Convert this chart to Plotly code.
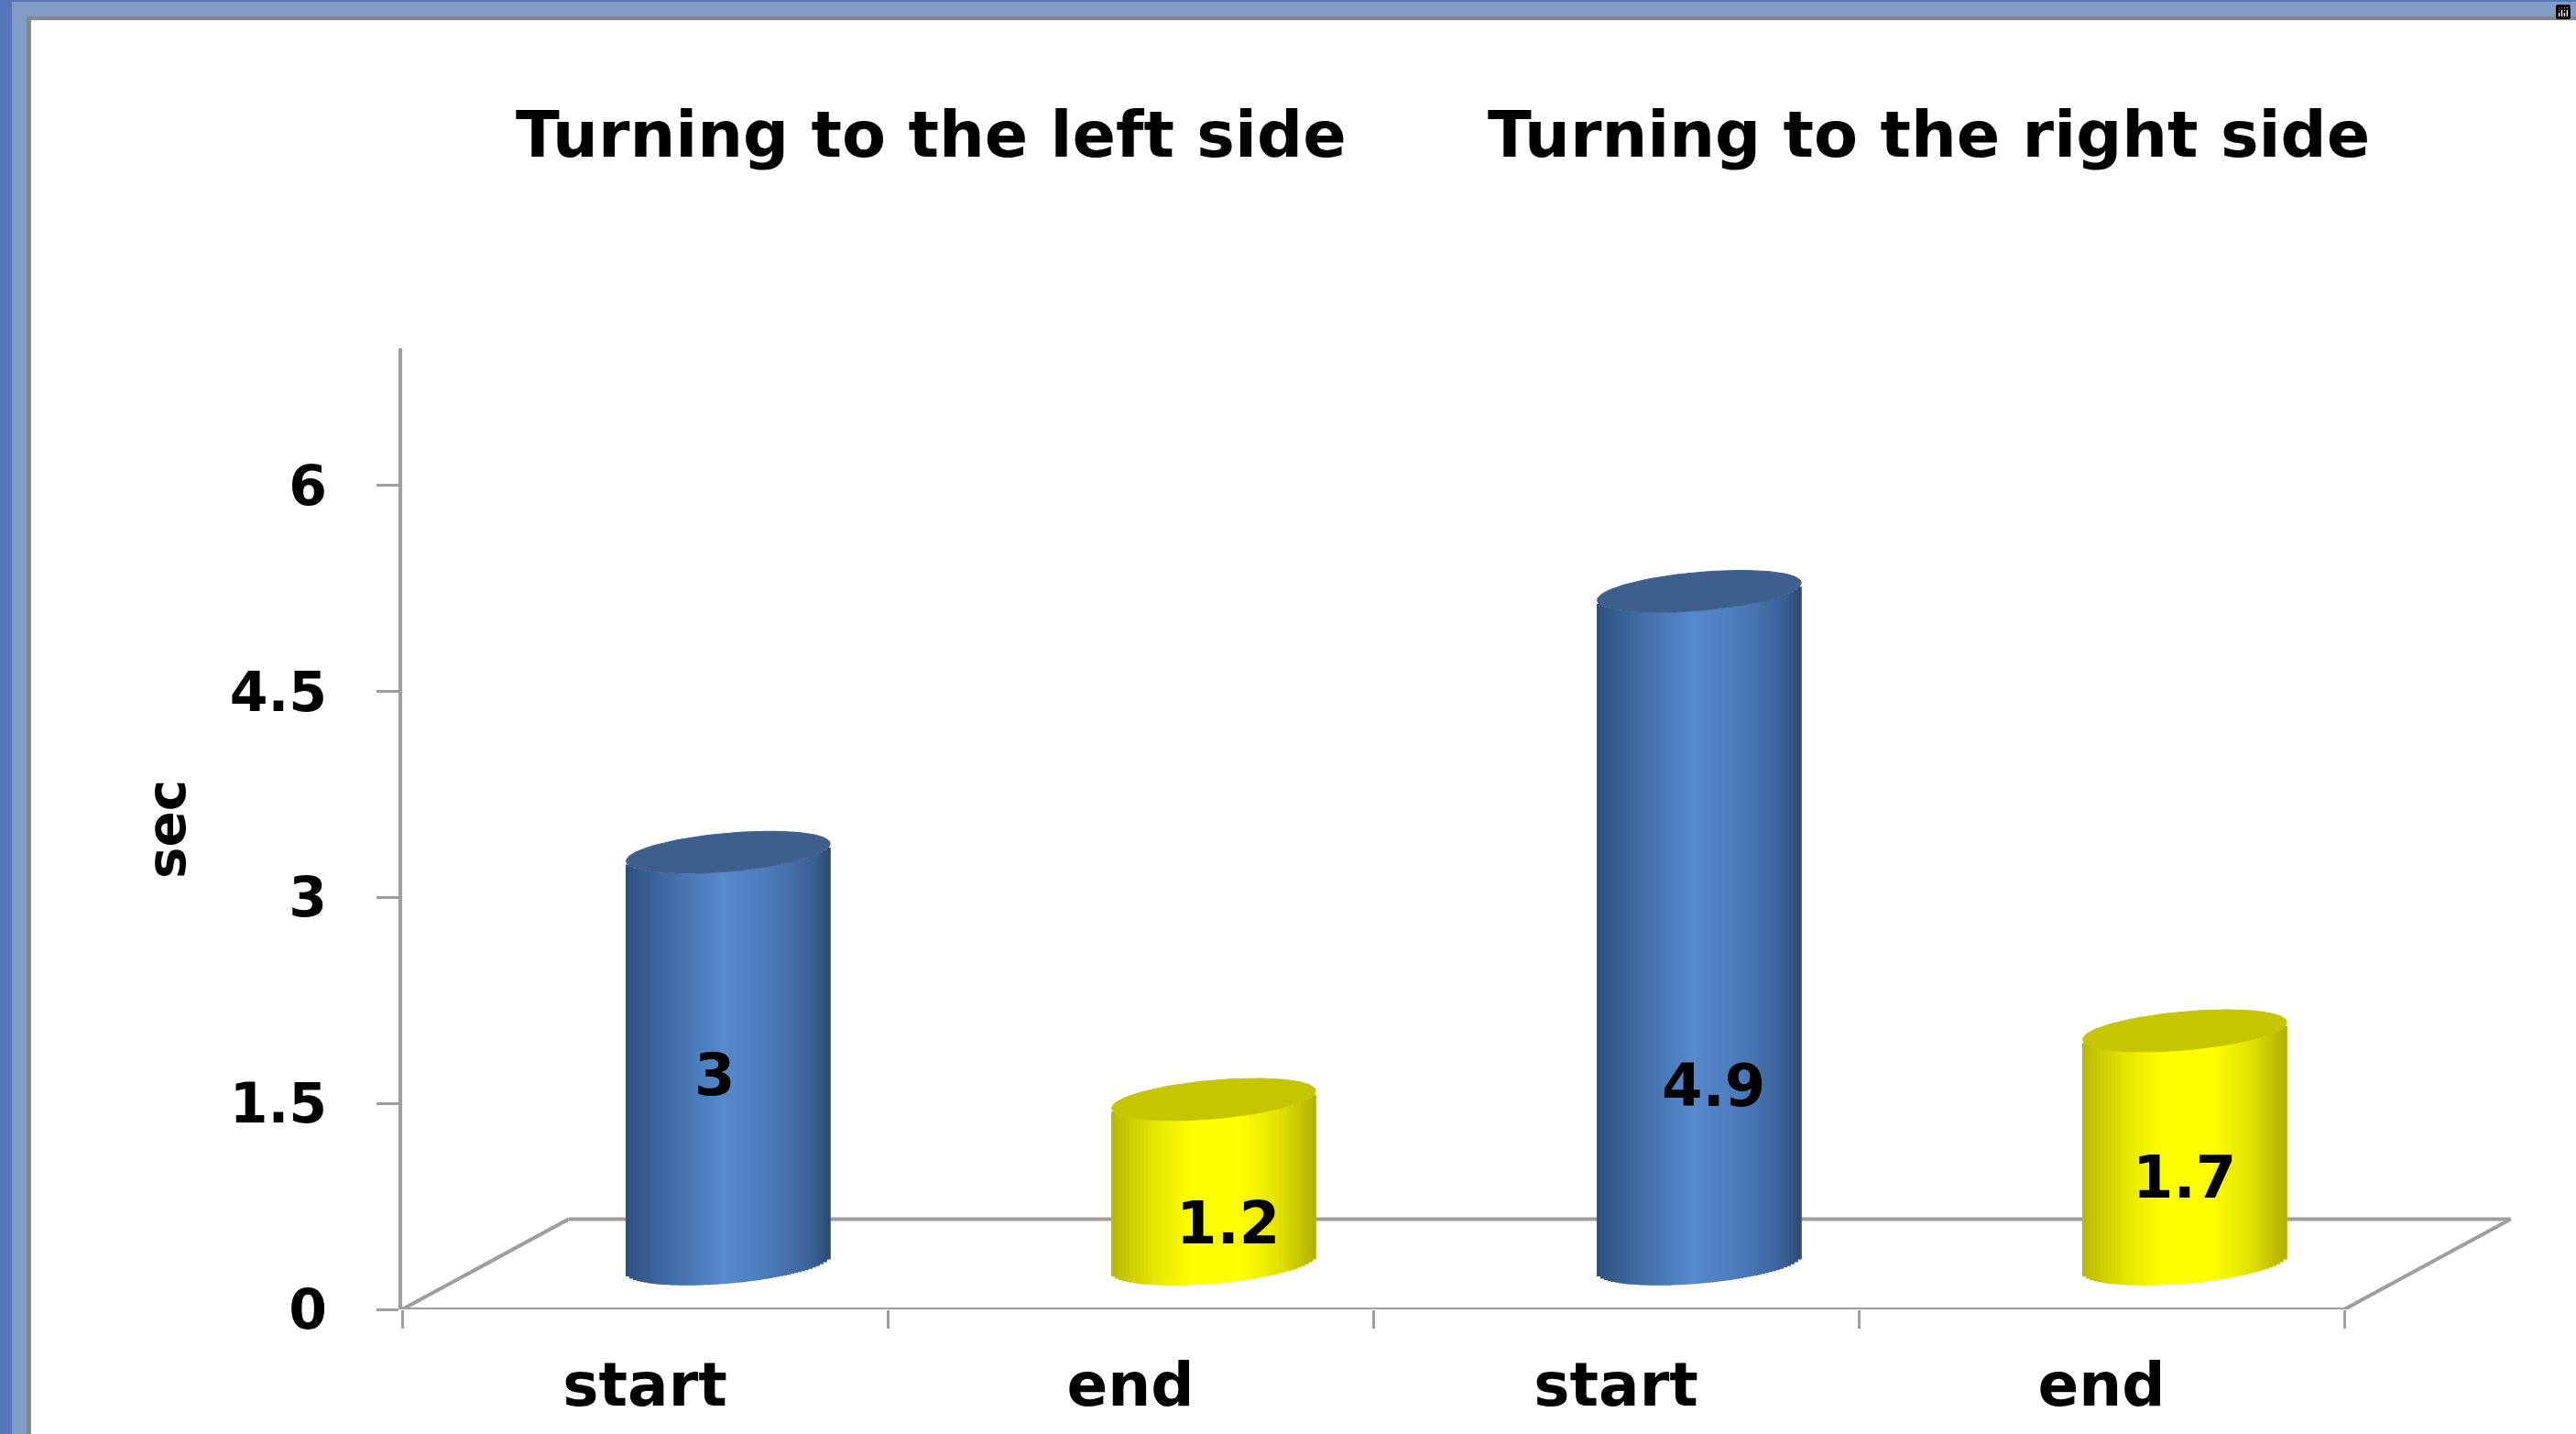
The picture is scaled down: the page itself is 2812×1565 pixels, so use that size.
import numpy as np
import plotly.graph_objects as go

# ---------------- data ----------------
groups = ["Turning to the left side", "Turning to the right side"]
categories = ["start", "end", "start", "end"]
values = [3, 1.2, 4.9, 1.7]
y_tick_vals = [0, 1.5, 3, 4.5, 6]
y_tick_text = ["0", "1.5", "3", "4.5", "6"]
y_title = "sec"

# ---------------- layout / style ----------------
FIG_W, FIG_H = 2812, 1565
L, R_EDGE, T, B = 439, 2771, 380, 1429
PW, PH = R_EDGE - L, B - T
X_RANGE = [-0.5, 3.9]
Y_RANGE = [0, 7]
DEPTH_X = 0.343          # floor depth, category units
DEPTH_Y = 0.657          # floor depth, value units
BAR_HALF = 0.21          # cylinder half width (category units)
ELL = 0.14               # ellipse semi-minor (value units)
TILT = 0.063             # ellipse tilt
N_STRIPS = 56
FONT = "DejaVu Sans"
GRAY = "#9E9E9E"
label_y = [1.38, 0.30, 1.30, 0.63]      # data-label heights inside cylinders
label_dx = [-0.027, 0.03, 0.03, 0.0]    # data-label horizontal nudges
title_px = [(1016, 147), (2105, 147)]

blue_stops = [(-1, (46, 80, 128)), (-0.55, (66, 110, 168)), (-0.05, (86, 138, 205)),
              (0.45, (74, 121, 183)), (0.85, (57, 95, 148)), (1, (44, 72, 112))]
yellow_stops = [(-1, (184, 184, 0)), (-0.6, (228, 228, 0)), (-0.2, (255, 255, 0)),
                (0.25, (255, 255, 0)), (0.65, (226, 226, 0)), (1, (176, 176, 0))]
top_colors = {"start": "#3E5F8E", "end": "#C6C600"}


def shade(stops, u):
    for (u0, c0), (u1, c1) in zip(stops[:-1], stops[1:]):
        if u0 <= u <= u1:
            f = (u - u0) / (u1 - u0)
            c = [round(c0[j] + (c1[j] - c0[j]) * f) for j in range(3)]
            return "rgb(%d,%d,%d)" % tuple(c)
    c = stops[-1][1]
    return "rgb(%d,%d,%d)" % c


def px_x(px):
    return (px - L) / PW


def px_y(py):
    return (B - py) / PH


fig = go.Figure()
xs = np.arange(len(values))

# cylinder bodies: vertical strips, each a bar from the data values
sw = 2 * BAR_HALF / N_STRIPS
for k in range(N_STRIPS):
    u = -1 + (k + 0.5) * 2 / N_STRIPS
    yf = -ELL * np.sqrt(max(0.0, 1 - u * u)) + TILT * u
    cols = [shade(blue_stops if c == "start" else yellow_stops, u) for c in categories]
    fig.add_trace(go.Bar(
        x=xs + u * BAR_HALF, y=values, base=[yf] * len(values),
        width=sw * 1.3, marker=dict(color=cols, line=dict(width=0)),
        xaxis="x2", yaxis="y2", showlegend=False, hoverinfo="skip"))

# cylinder tops
t = np.linspace(0, 2 * np.pi, 120)
for i, (v, c) in enumerate(zip(values, categories)):
    fig.add_trace(go.Scatter(
        x=i + BAR_HALF * np.cos(t), y=v + ELL * np.sin(t) + TILT * np.cos(t),
        mode="lines", fill="toself", fillcolor=top_colors[c],
        line=dict(width=1, color=top_colors[c]),
        xaxis="x2", yaxis="y2", showlegend=False, hoverinfo="skip"))

shapes = []
# frame
def prect(x0, y0, x1, y1, color):
    shapes.append(dict(type="rect", xref="paper", yref="paper",
                       x0=px_x(x0), x1=px_x(x1), y0=px_y(y1), y1=px_y(y0),
                       fillcolor=color, line=dict(width=0), layer="below"))

prect(0, 0, FIG_W, FIG_H, "#7F9DC5")
prect(0, 0, 13, FIG_H, "#5677BB")
prect(0, 0, FIG_W, 2, "#5677BB")
prect(29, 18, FIG_W, FIG_H, "#888888")
prect(34, 22, FIG_W, FIG_H, "#FFFFFF")

# 3D floor
x0, x1 = -0.5, 3.5
floor = [((x0, 0), (x1, 0)),
         ((x0, 0), (x0 + DEPTH_X, DEPTH_Y)),
         ((x0 + DEPTH_X, DEPTH_Y), (x1 + DEPTH_X, DEPTH_Y)),
         ((x1, 0), (x1 + DEPTH_X, DEPTH_Y))]
for (a, b) in floor:
    shapes.append(dict(type="line", xref="x", yref="y", x0=a[0], y0=a[1], x1=b[0], y1=b[1],
                       line=dict(color=GRAY, width=4), layer="below"))

annotations = []
for g, (tx, ty) in zip(groups, title_px):
    annotations.append(dict(text=g, xref="paper", yref="paper", x=px_x(tx), y=px_y(ty),
                            xanchor="center", yanchor="middle", showarrow=False,
                            font=dict(family=FONT, size=70, color="black", weight="bold")))
annotations.append(dict(text=y_title, xref="paper", yref="paper", x=px_x(182), y=px_y(905),
                        xanchor="center", yanchor="middle", showarrow=False, textangle=-90,
                        font=dict(family=FONT, size=58, color="black", weight="bold")))
for i, v in enumerate(values):
    annotations.append(dict(text=f"{v:g}", xref="x2", yref="y2", x=i + label_dx[i], y=label_y[i],
                            xanchor="center", yanchor="middle", showarrow=False,
                            font=dict(family=FONT, size=64, color="black", weight="bold")))

fig.update_layout(
    width=FIG_W, height=FIG_H,
    margin=dict(l=L, r=FIG_W - R_EDGE, t=T, b=FIG_H - B, pad=0),
    paper_bgcolor="white", plot_bgcolor="rgba(0,0,0,0)",
    barmode="overlay", showlegend=False,
    shapes=shapes, annotations=annotations,
    modebar=dict(bgcolor="rgba(0,0,0,0)", color="rgba(0,0,0,0)",
                 activecolor="rgba(0,0,0,0)"),
    xaxis=dict(range=X_RANGE, tickmode="array", tickvals=list(xs), ticktext=categories,
               ticks="", showline=False, showgrid=False, zeroline=False,
               tickfont=dict(family=FONT, size=66, color="black", weight="bold"),
               ticklabelstandoff=38,
               minor=dict(tickmode="array", tickvals=[-0.5, 0.5, 1.5, 2.5, 3.5],
                          ticks="outside", ticklen=20, tickwidth=3, tickcolor=GRAY,
                          showgrid=False)),
    yaxis=dict(range=Y_RANGE, tickmode="array", tickvals=y_tick_vals, ticktext=y_tick_text,
               ticks="outside", ticklen=24, tickwidth=3, tickcolor=GRAY,
               showline=True, linecolor=GRAY, linewidth=4, showgrid=False, zeroline=False,
               tickfont=dict(family=FONT, size=60, color="black", weight="bold"),
               ticklabelstandoff=42),
    xaxis2=dict(overlaying="x", range=[X_RANGE[0] - DEPTH_X / 2, X_RANGE[1] - DEPTH_X / 2],
                visible=False),
    yaxis2=dict(overlaying="y", range=[Y_RANGE[0] - DEPTH_Y / 2, Y_RANGE[1] - DEPTH_Y / 2],
                visible=False),
)

fig.write_html("out.html", post_script="document.body.style.margin='0';")
